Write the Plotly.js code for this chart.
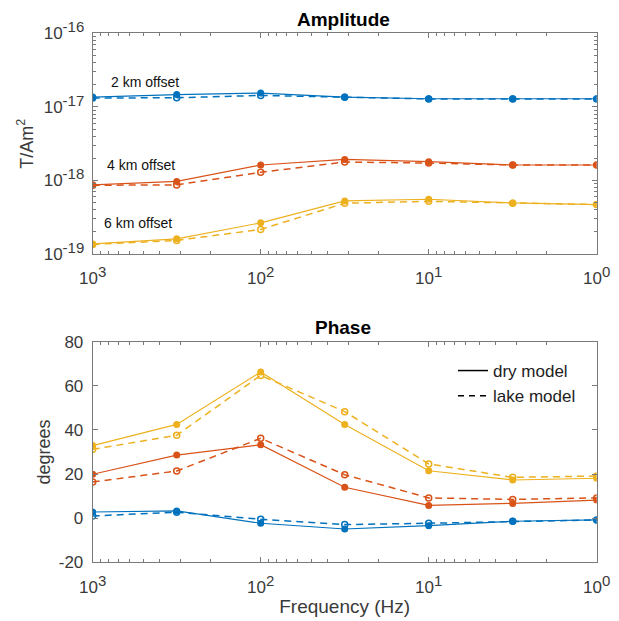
<!DOCTYPE html>
<html><head><meta charset="utf-8">
<script src="https://cdn.plot.ly/plotly-3.0.1.min.js"></script>
<style>html,body{margin:0;padding:0;background:#fff}</style>
</head><body><div id="chart" style="width:619px;height:621px"></div>
<script>
const freqs = [1000, 316.2, 100, 31.62, 10, 3.162, 1];
const amp2Dry  = [1.36e-17, 1.47e-17, 1.54e-17, 1.36e-17, 1.29e-17, 1.29e-17, 1.29e-17];
const amp2Lake = [1.32e-17, 1.33e-17, 1.43e-17, 1.35e-17, 1.28e-17, 1.28e-17, 1.28e-17];
const amp4Dry  = [8.7e-19, 9.7e-19, 1.62e-18, 1.93e-18, 1.80e-18, 1.62e-18, 1.62e-18];
const amp4Lake = [8.6e-19, 8.7e-19, 1.29e-18, 1.78e-18, 1.72e-18, 1.62e-18, 1.62e-18];
const amp6Dry  = [1.37e-19, 1.61e-19, 2.65e-19, 5.27e-19, 5.55e-19, 4.95e-19, 4.70e-19];
const amp6Lake = [1.35e-19, 1.53e-19, 2.16e-19, 4.9e-19, 5.2e-19, 4.9e-19, 4.7e-19];
const ph2Dry  = [2.8, 3.3, -2.3, -4.9, -3.4, -1.4, -0.8];
const ph2Lake = [1.0, 2.7, -0.5, -2.9, -2.3, -1.4, -0.8];
const ph4Dry  = [19.9, 28.6, 33.3, 14.0, 5.8, 6.7, 8.2];
const ph4Lake = [16.4, 21.4, 36.2, 19.7, 9.2, 8.5, 9.2];
const ph6Dry  = [32.9, 42.5, 66.3, 42.5, 21.5, 17.3, 18.1];
const ph6Lake = [31.2, 37.6, 64.7, 48.3, 24.6, 18.5, 19.1];
const xTickVals = [1000, 100, 10, 1];
const xTickExp = ['3', '2', '1', '0'];
const ampTickVals = [1e-19, 1e-18, 1e-17, 1e-16];
const ampTickExp = ['-19', '-18', '-17', '-16'];
const phaseTickVals = [-20, 0, 20, 40, 60, 80];
const phaseTickText = ['-20', '0', '20', '40', '60', '80'];
const offsetLabels = ['2 km offset', '4 km offset', '6 km offset'];
const legendNames = ['dry model', 'lake model'];

const BLUE = '#0072BD', RED = '#D95319', YEL = '#EDB120';
const DASH = '7px,5px';
const pow10 = e => '10<sup><span style="font-size:15px">' + e + '</span></sup>';

function dry(y, c, xa, ya) {
  return {x: freqs, y: y, xaxis: xa, yaxis: ya, mode: 'lines+markers', showlegend: false,
    line: {color: c, width: 1.2}, marker: {color: c, size: 7, symbol: 'circle'}, hoverinfo: 'skip'};
}
function lake(y, c, xa, ya) {
  return {x: freqs, y: y, xaxis: xa, yaxis: ya, mode: 'lines+markers', showlegend: false,
    line: {color: c, width: 1.5, dash: DASH}, marker: {color: c, size: 6, symbol: 'circle-open', line: {width: 1.5, color: c}}, hoverinfo: 'skip'};
}

const traces = [
  lake(amp2Lake, BLUE, 'x', 'y'), dry(amp2Dry, BLUE, 'x', 'y'),
  lake(amp4Lake, RED, 'x', 'y'), dry(amp4Dry, RED, 'x', 'y'),
  lake(amp6Lake, YEL, 'x', 'y'), dry(amp6Dry, YEL, 'x', 'y'),
  lake(ph2Lake, BLUE, 'x2', 'y2'), dry(ph2Dry, BLUE, 'x2', 'y2'),
  lake(ph4Lake, RED, 'x2', 'y2'), dry(ph4Dry, RED, 'x2', 'y2'),
  lake(ph6Lake, YEL, 'x2', 'y2'), dry(ph6Dry, YEL, 'x2', 'y2'),
  {x: [null], y: [null], xaxis: 'x2', yaxis: 'y2', mode: 'lines', name: legendNames[0], line: {color: '#000', width: 1.5}},
  {x: [null], y: [null], xaxis: 'x2', yaxis: 'y2', mode: 'lines', name: legendNames[1], line: {color: '#000', width: 1.5, dash: '6px,5px'}}
];

const FONT = 'Liberation Sans, Arial, Helvetica, sans-serif';
const AXC = '#7a7a7a';
const TXT = '#3a3a3a';
const TICKFONT = {family: FONT, size: 17, color: TXT};
const XDOM = [92.7/619, 596.7/619];
function xaxisCfg(anchor, withTitle) {
  const a = {type: 'log', range: [3, 0], domain: XDOM, anchor: anchor,
    tickvals: xTickVals, ticktext: xTickExp.map(pow10), ticks: 'inside', ticklen: 5, tickcolor: AXC,
    showline: true, linecolor: AXC, linewidth: 1, mirror: 'ticks', showgrid: false, zeroline: false,
    tickfont: TICKFONT, ticklabelstandoff: 9,
    minor: {dtick: 'D1', ticks: 'inside', ticklen: 3, tickcolor: AXC, showgrid: false}};
  if (withTitle) a.title = {text: 'Frequency (Hz)', font: {family: FONT, size: 19, color: TXT}, standoff: 3};
  return a;
}

const ann = (text, px, py, size, color) => ({text: text, xref: 'paper', yref: 'paper',
  x: px/619, y: 1 - py/621, xanchor: 'center', yanchor: 'middle', showarrow: false,
  font: {family: FONT, size: size, color: color}});

const layout = {
  width: 619, height: 621,
  margin: {l: 0, r: 0, t: 0, b: 0},
  paper_bgcolor: '#fff', plot_bgcolor: '#fff',
  showlegend: true,
  legend: {x: 453/619, y: 1 - 353/621, xanchor: 'left', yanchor: 'top', bgcolor: 'rgba(0,0,0,0)',
    font: {family: FONT, size: 17, color: '#222'}, tracegroupgap: 0},
  xaxis: xaxisCfg('y', false),
  yaxis: {type: 'log', range: [-19, -16], domain: [1 - 254/621, 1 - 33.3/621], anchor: 'x',
    tickvals: ampTickVals, ticktext: ampTickExp.map(pow10), ticks: 'inside', ticklen: 5, tickcolor: AXC,
    showline: true, linecolor: AXC, mirror: 'ticks', showgrid: false, zeroline: false,
    tickfont: TICKFONT, ticklabelstandoff: 4,
    minor: {dtick: 'D1', ticks: 'inside', ticklen: 3, tickcolor: AXC, showgrid: false},
    title: {text: 'T/Am<sup>2</sup>', font: {family: FONT, size: 18, color: TXT}, standoff: 5}},
  xaxis2: xaxisCfg('y2', true),
  yaxis2: {range: [-20, 80], domain: [1 - 562.3/621, 1 - 341.7/621], anchor: 'x2',
    tickvals: phaseTickVals, ticktext: phaseTickText, ticks: 'inside', ticklen: 5, tickcolor: AXC,
    showline: true, linecolor: AXC, mirror: 'ticks', showgrid: false, zeroline: false,
    tickfont: TICKFONT, ticklabelstandoff: 5,
    title: {text: 'degrees', font: {family: FONT, size: 18, color: TXT}, standoff: 3}},
  annotations: [
    ann('<b>Amplitude</b>', 343, 19, 19, '#000'),
    ann('<b>Phase</b>', 343, 327, 19, '#000'),
    ann(offsetLabels[0], 145, 82, 14, '#111'),
    ann(offsetLabels[1], 141, 165, 14, '#111'),
    ann(offsetLabels[2], 138, 223, 14, '#111')
  ]
};

Plotly.newPlot('chart', traces, layout, {staticPlot: true, displayModeBar: false});
</script></body></html>
